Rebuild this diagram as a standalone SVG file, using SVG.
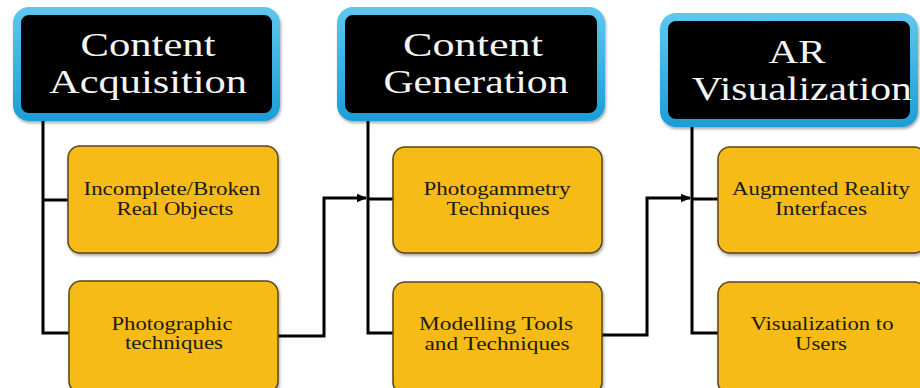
<svg xmlns="http://www.w3.org/2000/svg" width="920" height="388" viewBox="0 0 920 388">
  <defs>
    <linearGradient id="rim" x1="0" y1="0" x2="0" y2="1">
      <stop offset="0" stop-color="#5cc6ee"/>
      <stop offset="1" stop-color="#1e9fd8"/>
    </linearGradient>
    <filter id="shadow" x="-10%" y="-10%" width="125%" height="130%">
      <feDropShadow dx="1" dy="2" stdDeviation="1.5" flood-color="#000" flood-opacity="0.35"/>
    </filter>
    <marker id="arrow" markerUnits="userSpaceOnUse" markerWidth="10" markerHeight="10" viewBox="0 0 10 10" refX="9" refY="5" orient="auto">
      <path d="M0,0.8 L10,5 L0,9.2 Z" fill="#000"/>
    </marker>
  </defs>
  <style>
    .head { fill: #000; stroke: url(#rim); stroke-width: 8; filter: url(#shadow); }
    .head-text { font-family: "Liberation Serif", "DejaVu Serif", serif; font-size: 33px; fill: #f4f4f4; text-anchor: middle; }
    .item { fill: #f6bb19; stroke: #5a4716; stroke-width: 1.5; filter: url(#shadow); }
    .item-text { font-family: "Liberation Serif", "DejaVu Serif", serif; font-size: 18px; fill: #1c1a14; text-anchor: middle; }
    .wire { fill: none; stroke: #000; stroke-width: 3; }
  </style>

  <rect width="920" height="388" fill="#ffffff"/>

  <!-- connectors -->
  <g id="connectors">
    <path class="wire" d="M43,121 V333 H69"/>
    <path class="wire" d="M43,200 H68"/>
    <path class="wire" d="M278,336 H324 V198 H366" marker-end="url(#arrow)"/>
    <path class="wire" d="M368,121 V333 H393"/>
    <path class="wire" d="M368,199 H393"/>
    <path class="wire" d="M602,335 H647 V198 H690" marker-end="url(#arrow)"/>
    <path class="wire" d="M692,127 V333 H718"/>
    <path class="wire" d="M692,199 H718"/>
  </g>

  <!-- stage headers -->
  <g id="content-acquisition">
    <rect class="head" x="17" y="11" width="259" height="106" rx="12"/>
    <text class="head-text" x="148" y="56" textLength="135" lengthAdjust="spacingAndGlyphs">Content</text>
    <text class="head-text" x="148" y="93" textLength="198" lengthAdjust="spacingAndGlyphs">Acquisition</text>
  </g>
  <g id="content-generation">
    <rect class="head" x="341" y="11" width="260" height="106" rx="12"/>
    <text class="head-text" x="473" y="56" textLength="140" lengthAdjust="spacingAndGlyphs">Content</text>
    <text class="head-text" x="476" y="93" textLength="185" lengthAdjust="spacingAndGlyphs">Generation</text>
  </g>
  <g id="ar-visualization">
    <rect class="head" x="664" y="17" width="250" height="106" rx="12"/>
    <text class="head-text" x="797" y="63" textLength="57" lengthAdjust="spacingAndGlyphs">AR</text>
    <text class="head-text" x="802" y="100" textLength="220" lengthAdjust="spacingAndGlyphs">Visualization</text>
  </g>

  <!-- stage items -->
  <g id="incomplete-objects">
    <rect class="item" x="68" y="146" width="210" height="107" rx="12"/>
    <text class="item-text" x="172" y="195" textLength="177" lengthAdjust="spacingAndGlyphs">Incomplete/Broken</text>
    <text class="item-text" x="175" y="215" textLength="117" lengthAdjust="spacingAndGlyphs">Real Objects</text>
  </g>
  <g id="photographic-techniques">
    <rect class="item" x="69" y="281" width="209" height="112" rx="12"/>
    <text class="item-text" x="172" y="330" textLength="121" lengthAdjust="spacingAndGlyphs">Photographic</text>
    <text class="item-text" x="174" y="349" textLength="98" lengthAdjust="spacingAndGlyphs">techniques</text>
  </g>
  <g id="photogammetry">
    <rect class="item" x="393" y="147" width="209" height="106" rx="12"/>
    <text class="item-text" x="497" y="195" textLength="147" lengthAdjust="spacingAndGlyphs">Photogammetry</text>
    <text class="item-text" x="498" y="215" textLength="103" lengthAdjust="spacingAndGlyphs">Techniques</text>
  </g>
  <g id="modelling-tools">
    <rect class="item" x="393" y="282" width="209" height="112" rx="12"/>
    <text class="item-text" x="496" y="330" textLength="154" lengthAdjust="spacingAndGlyphs">Modelling Tools</text>
    <text class="item-text" x="497" y="350" textLength="145" lengthAdjust="spacingAndGlyphs">and Techniques</text>
  </g>
  <g id="ar-interfaces">
    <rect class="item" x="718" y="147" width="208" height="106" rx="12"/>
    <text class="item-text" x="821" y="195" textLength="178" lengthAdjust="spacingAndGlyphs">Augmented Reality</text>
    <text class="item-text" x="821" y="215" textLength="92" lengthAdjust="spacingAndGlyphs">Interfaces</text>
  </g>
  <g id="visualization-users">
    <rect class="item" x="718" y="282" width="208" height="112" rx="12"/>
    <text class="item-text" x="822" y="330" textLength="143" lengthAdjust="spacingAndGlyphs">Visualization to</text>
    <text class="item-text" x="821" y="350" textLength="52" lengthAdjust="spacingAndGlyphs">Users</text>
  </g>
</svg>
